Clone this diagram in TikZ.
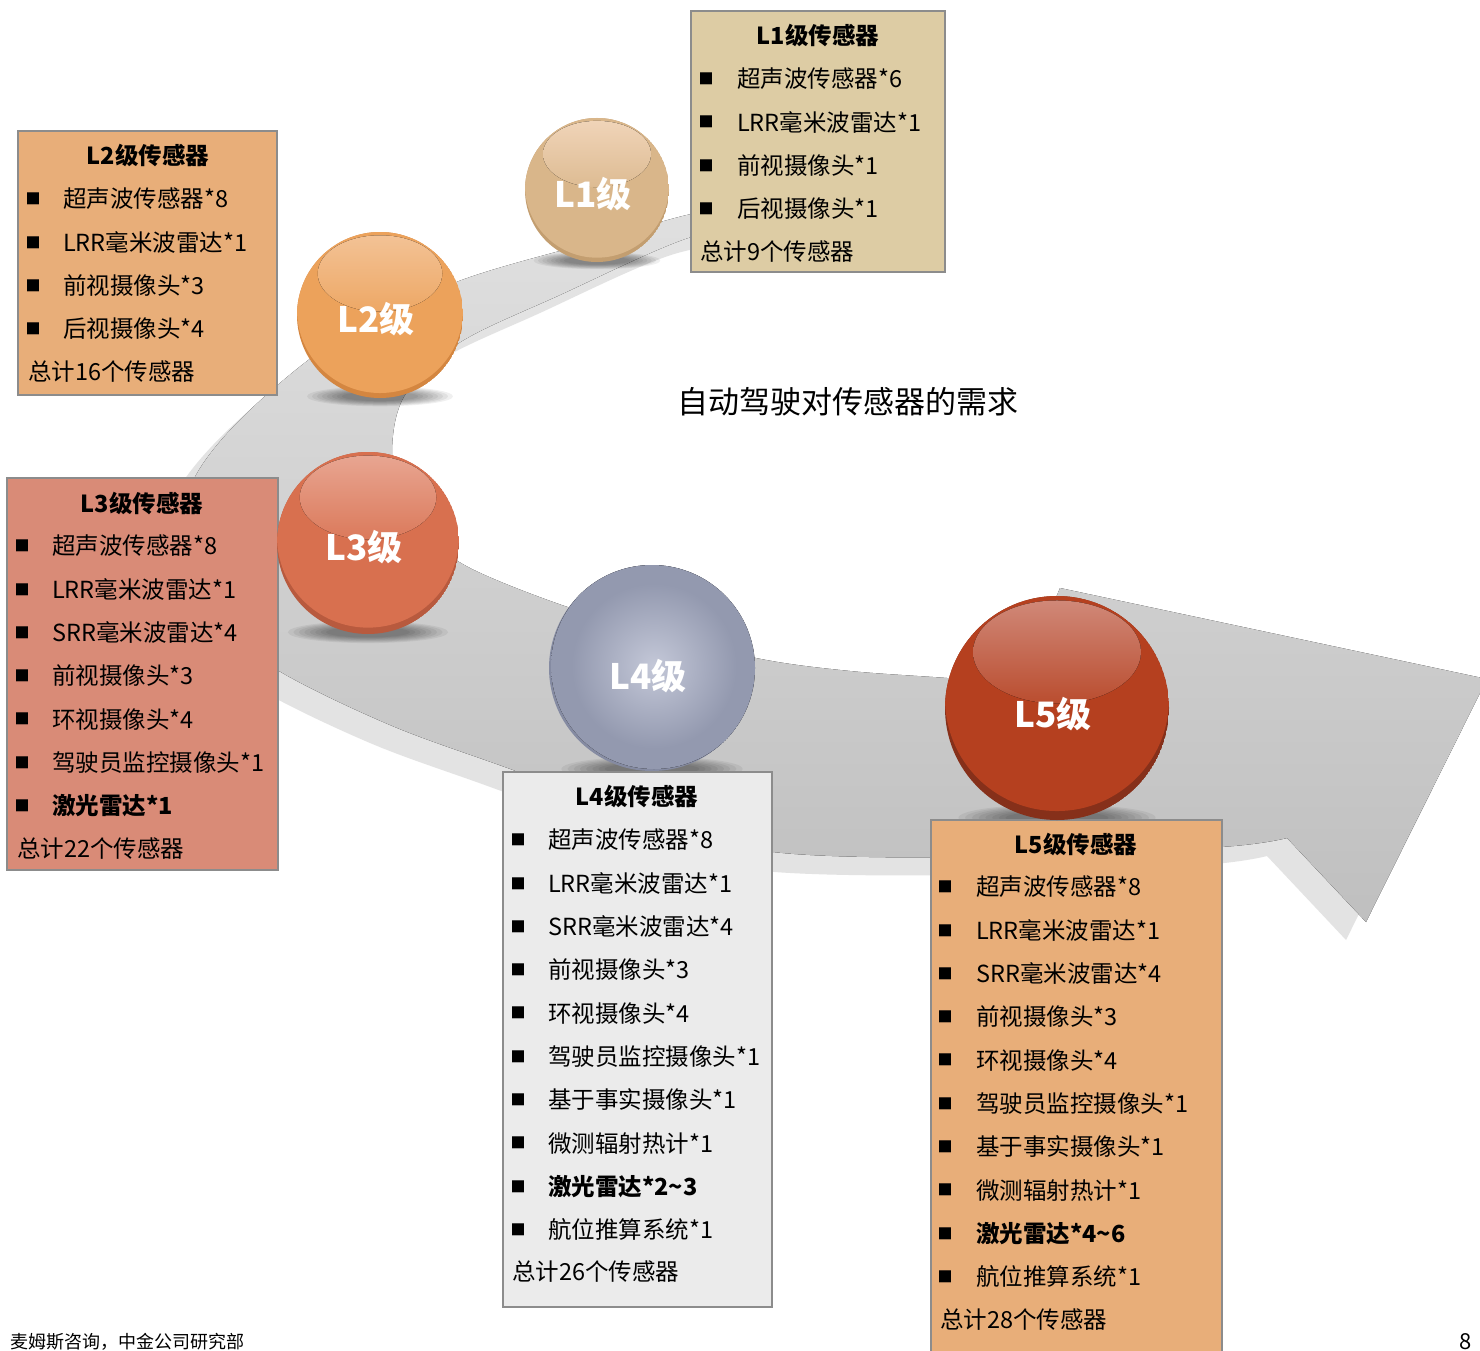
\documentclass[tikz,border=0pt]{standalone}
\usepackage{fontspec}
\setmainfont{Noto Sans CJK SC}
\definecolor{boxA}{HTML}{DDCCA4}
\definecolor{boxB}{HTML}{E8AE79}
\definecolor{boxC}{HTML}{D98B77}
\definecolor{boxD}{HTML}{EBEBEB}
\definecolor{boxline}{HTML}{8C8C8C}
\definecolor{baseA}{HTML}{D9B68A}\definecolor{hiA}{HTML}{F0D4B8}\definecolor{darkA}{HTML}{C39E70}
\definecolor{baseB}{HTML}{ECA25B}\definecolor{hiB}{HTML}{F3C295}\definecolor{darkB}{HTML}{D48640}
\definecolor{baseC}{HTML}{D8704F}\definecolor{hiC}{HTML}{E8A591}\definecolor{darkC}{HTML}{B85A3E}
\definecolor{ballD}{HTML}{9399AF}\definecolor{ballDhi}{HTML}{C4C8D8}\definecolor{ballDdark}{HTML}{858BA2}
\definecolor{baseE}{HTML}{B5401F}\definecolor{hiE}{HTML}{D08878}\definecolor{darkE}{HTML}{86301A}
\pgfdeclareradialshading{glowD}{\pgfpoint{0bp}{0bp}}{color(0bp)=(ballDhi); color(20bp)=(ballD); color(50bp)=(ballD)}

\newcommand\bandpath{plot[smooth,tension=0.55] coordinates {(790,196) (691,214) (600,240) (459,281) (340,338) (250,410) (196,475) (176,545) (205,615) (279,671) (390,725) (502,766) (640,815) (773,852) (1000,857) (1221,847) (1287,838)} -- (1366,922) -- (1487,679) -- (1060,588) -- (1020,684) -- plot[smooth,tension=0.55] coordinates {(1020,684) (947,678) (850,671) (761,659) (650,632) (556,603) (470,568) (425,535) (402,495) (392,450) (405,395) (459,343) (560,295) (691,237) (790,220)} -- cycle}

\newcommand\ballshadow[3]{%
 \foreach \k in {0,...,7} {
  \fill[black,opacity=.06] (#1,{#2+0.98*#3}) ellipse [x radius={(0.88-0.06*\k)*#3}, y radius={(0.12-0.009*\k)*#3}];
 }}
\newcommand\myball[9]{%
 \begin{scope}
  \clip (#2,#3) circle [radius=#4];
  \fill[#7] (#2,#3) circle [radius=#4];
  \fill[#5] (#2,{#3-#8*#4}) circle [radius=#4];
  \fill[top color=#6, bottom color=#6!18!#5] (#2,{#3-0.5*#4}) ellipse [x radius={0.75*#4}, y radius={0.46*#4}];
 \end{scope}
 \node[balltext] (#1) at ({#2-4},{#3+0.05*#4}) {#9};
}
\newcommand\boxitems[5]{%
 \foreach \t [count=\i] in {#5} {
   \node[bul] (#1b\i) at (#2,{#4+43.3*(\i-1)}) {■};
   \node[item] (#1t\i) at (#3,{#4+43.3*(\i-1)}) {\t};
 }}

\begin{document}
\begin{tikzpicture}[x=1pt,y=-1pt,
  box/.style={draw=boxline, line width=1.6pt, inner sep=0},
  item/.style={anchor=west, inner sep=0, font=\fontsize{23.5}{24}\selectfont},
  ttl/.style={inner sep=0, font=\fontsize{23.5}{24}\selectfont\bfseries},
  bul/.style={inner sep=0, font=\fontsize{15}{15}\selectfont},
  balltext/.style={text=white, font=\fontsize{35}{36}\selectfont\bfseries, inner sep=0}]
\clip (0,0) rectangle (1480,1351);
\fill[white] (0,0) rectangle (1480,1351);

% curved arrow band
\fill[gray!22, shift={(-20,18)}] \bandpath;
\fill[top color=gray!24, middle color=gray!50, bottom color=gray!50] \bandpath;

% shadows under balls
\ballshadow{597}{190}{72}
\ballshadow{380}{315}{83}
\ballshadow{368}{543}{91}
\ballshadow{652}{668}{103}
\ballshadow{1057}{708}{112}

% boxes
\node[box, fill=boxA, minimum width=254, minimum height=261] (box1) at (818,141.5) {};
\node[box, fill=boxB, minimum width=259, minimum height=264] (box2) at (147.5,263) {};
\node[box, fill=boxC, minimum width=271, minimum height=392] (box3) at (142.5,674) {};
\node[box, fill=boxD, minimum width=269, minimum height=535] (box4) at (637.5,1039.5) {};
\node[box, fill=boxB, minimum width=291, minimum height=550] (box5) at (1076.5,1095) {};

% box texts
\node[ttl] (h1) at (818,36) {L1级传感器};
\boxitems{A}{706}{737}{79}{超声波传感器*6,LRR毫米波雷达*1,前视摄像头*1,后视摄像头*1}
\node[item] (s1) at (700,252) {总计9个传感器};

\node[ttl] (h2) at (148,156) {L2级传感器};
\boxitems{B}{33}{63}{199}{超声波传感器*8,LRR毫米波雷达*1,前视摄像头*3,后视摄像头*4}
\node[item] (s2) at (28,372) {总计16个传感器};

\node[ttl] (h3) at (142,503) {L3级传感器};
\boxitems{C}{22}{52}{546}{超声波传感器*8,LRR毫米波雷达*1,SRR毫米波雷达*4,前视摄像头*3,环视摄像头*4,驾驶员监控摄像头*1,{\bfseries 激光雷达*1}}
\node[item] (s3) at (17,849) {总计22个传感器};

\node[ttl] (h4) at (637,796) {L4级传感器};
\boxitems{D}{518}{548}{840}{超声波传感器*8,LRR毫米波雷达*1,SRR毫米波雷达*4,前视摄像头*3,环视摄像头*4,驾驶员监控摄像头*1,基于事实摄像头*1,微测辐射热计*1,{\bfseries 激光雷达*2\textasciitilde 3},航位推算系统*1}
\node[item] (s4) at (512,1272) {总计26个传感器};

\node[ttl] (h5) at (1076,844) {L5级传感器};
\boxitems{E}{945}{976}{887}{超声波传感器*8,LRR毫米波雷达*1,SRR毫米波雷达*4,前视摄像头*3,环视摄像头*4,驾驶员监控摄像头*1,基于事实摄像头*1,微测辐射热计*1,{\bfseries 激光雷达*4\textasciitilde 6},航位推算系统*1}
\node[item] (s5) at (940,1320) {总计28个传感器};

% balls
\myball{L1}{597}{190}{72}{baseA}{hiA}{darkA}{0.06}{L1级}
\myball{L2}{380}{315}{83}{baseB}{hiB}{darkB}{0.06}{L2级}
\myball{L3}{368}{543}{91}{baseC}{hiC}{darkC}{0.07}{L3级}
\begin{scope}
 \clip (652,668) circle [radius=103];
 \fill[ballDdark] (652,668) circle [radius=103];
 \fill[shading=glowD] (654,666) circle [radius=103];
\end{scope}
\node[balltext] (L4) at (648,676) {L4级};
\myball{L5}{1057}{708}{112}{baseE}{hiE}{darkE}{0.08}{L5级}

% title, source, page
\node[inner sep=0, font=\fontsize{31}{32}\selectfont] (title) at (848,402) {自动驾驶对传感器的需求};
\node[anchor=west, inner sep=0, font=\fontsize{18}{18}\selectfont] (src) at (10,1342) {麦姆斯咨询，中金公司研究部};
\node[inner sep=0, font=\fontsize{22}{22}\selectfont] (pg) at (1466,1342) {8};
\end{tikzpicture}
\end{document}
